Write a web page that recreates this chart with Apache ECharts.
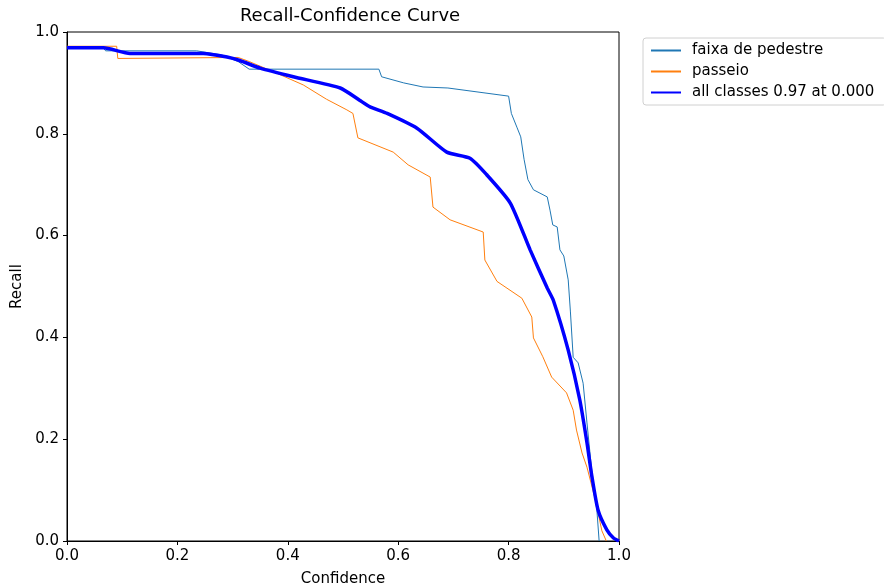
<!DOCTYPE html>
<html>
<head>
<meta charset="utf-8">
<script src="https://cdn.jsdelivr.net/npm/echarts@6/dist/echarts.min.js"></script>
<style>
  html, body { margin: 0; padding: 0; background: #fff; }
  #box { width: 884px; height: 587px; }
</style>
</head>
<body>
<div id="box"></div>
<script>
// values
var faixaConf = [0, 0.065, 0.07, 0.235, 0.28, 0.31, 0.33, 0.565, 0.57, 0.61, 0.645, 0.69, 0.80, 0.805, 0.815, 0.822, 0.828, 0.835, 0.845, 0.87, 0.875, 0.88, 0.888, 0.893, 0.90, 0.908, 0.912, 0.917, 0.926, 0.935, 0.942, 0.95, 0.96, 0.964];
var faixaRecall = [0.97, 0.97, 0.963, 0.963, 0.955, 0.942, 0.927, 0.927, 0.912, 0.9, 0.892, 0.89, 0.874, 0.84, 0.813, 0.794, 0.75, 0.71, 0.69, 0.676, 0.65, 0.621, 0.617, 0.572, 0.56, 0.513, 0.45, 0.361, 0.35, 0.31, 0.232, 0.145, 0.06, 0];

var passeioConf = [0, 0.09, 0.092, 0.31, 0.33, 0.38, 0.428, 0.47, 0.507, 0.518, 0.527, 0.591, 0.618, 0.658, 0.663, 0.694, 0.754, 0.757, 0.779, 0.824, 0.842, 0.845, 0.862, 0.878, 0.905, 0.917, 0.923, 0.933, 0.942, 0.956, 0.969, 0.977];
var passeioRecall = [0.972, 0.972, 0.948, 0.95, 0.942, 0.919, 0.896, 0.868, 0.847, 0.84, 0.792, 0.764, 0.739, 0.715, 0.656, 0.631, 0.607, 0.552, 0.51, 0.477, 0.44, 0.399, 0.362, 0.322, 0.291, 0.257, 0.218, 0.173, 0.145, 0.086, 0.02, 0];

var allConf = [0, 0.066, 0.114, 0.247, 0.29, 0.313, 0.35, 0.41, 0.495, 0.53, 0.549, 0.58, 0.634, 0.688, 0.73, 0.76, 0.803, 0.839, 0.87, 0.881, 0.908, 0.929, 0.942, 0.951, 0.962, 0.978, 0.99, 1.0];
var allRecall = [0.969, 0.969, 0.958, 0.958, 0.951, 0.944, 0.929, 0.912, 0.89, 0.866, 0.853, 0.84, 0.811, 0.764, 0.752, 0.72, 0.664, 0.572, 0.497, 0.473, 0.375, 0.277, 0.193, 0.126, 0.061, 0.022, 0.006, 0];

var names = ['faixa de pedestre', 'passeio', 'all classes 0.97 at 0.000'];

var pairs = function(xs, ys){
  return xs.map(function(x, i){ return [x, ys[i]]; });
};

var font = 'DejaVu Sans';
var mychart = echarts.init(document.getElementById('box'), null, {renderer: 'canvas'});

var axisCommon = {
  type: 'value',
  min: 0,
  max: 1,
  interval: 0.2,
  nameLocation: 'middle',
  nameTextStyle: {color: '#000', fontFamily: font, fontSize: 15},
  axisLine: {show: true, onZero: false, lineStyle: {color: '#000', width: 1}},
  axisTick: {show: true, length: 4, lineStyle: {color: '#000'}},
  axisLabel: {color: '#000', fontFamily: font, fontSize: 15, formatter: function(v){ return v.toFixed(1); }},
  splitLine: {show: false}
};

var option = {
  animation: false,
  backgroundColor: '#fff',
  title: {
    text: 'Recall-Confidence Curve',
    left: 345,
    textAlign: 'center',
    top: 2,
    textStyle: {color: '#000', fontFamily: font, fontSize: 18, fontWeight: 'normal'}
  },
  grid: {
    left: 67, right: 265, top: 32, bottom: 46,
    outerBoundsMode: 'none',
    show: true, borderColor: '#000', borderWidth: 1, backgroundColor: '#fff'
  },
  legend: {
    orient: 'vertical',
    left: 643,
    top: 38,
    itemWidth: 30,
    itemHeight: 14,
    itemGap: 6,
    padding: [5, 12, 5, 7],
    borderColor: '#d0d0d0',
    borderWidth: 1,
    borderRadius: 3,
    itemStyle: {opacity: 0},
    textStyle: {color: '#000', fontFamily: font, fontSize: 15, padding: [0, 0, 0, 6]},
    data: names
  },
  xAxis: Object.assign({}, axisCommon, {name: 'Confidence', nameGap: 31}),
  yAxis: Object.assign({}, axisCommon, {name: 'Recall', nameGap: 36}),
  series: [
    {name: names[0], type: 'line', symbol: 'none', data: pairs(faixaConf, faixaRecall),
      lineStyle: {color: '#1f77b4', width: 1}, itemStyle: {color: '#1f77b4'}},
    {name: names[1], type: 'line', symbol: 'none', data: pairs(passeioConf, passeioRecall),
      lineStyle: {color: '#ff7f0e', width: 1}, itemStyle: {color: '#ff7f0e'}},
    {name: names[2], type: 'line', symbol: 'none', smooth: 0.2, data: pairs(allConf, allRecall),
      lineStyle: {color: '#0000ff', width: 3.5}, itemStyle: {color: '#0000ff'}, z: 3}
  ]
};

mychart.setOption(option);
</script>
</body>
</html>
